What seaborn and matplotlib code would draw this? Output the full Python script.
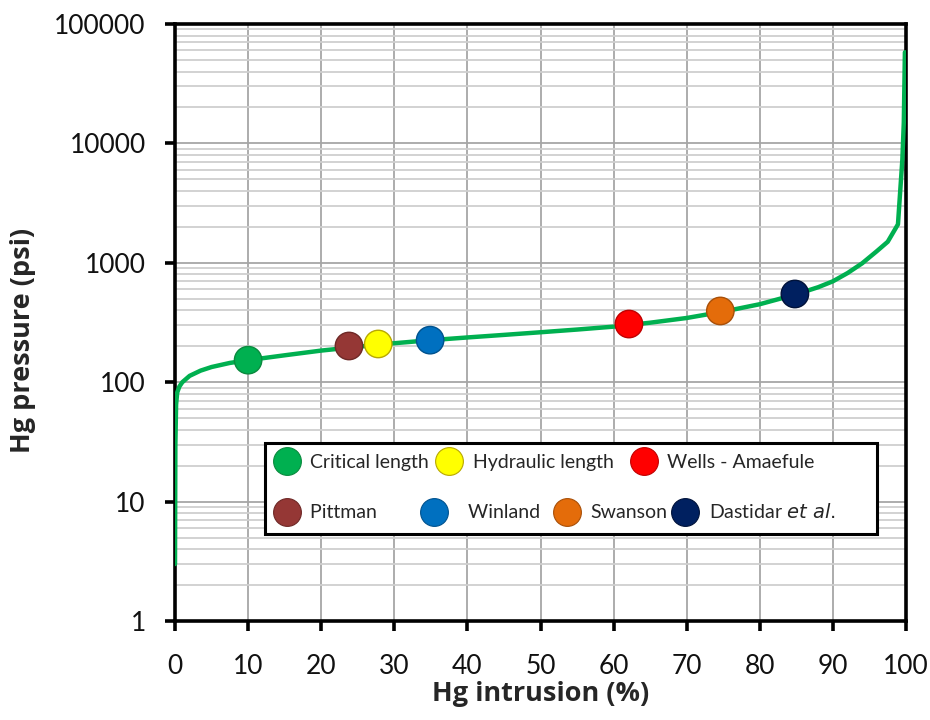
import numpy as np
import pandas as pd
import matplotlib
matplotlib.use("Agg")
import matplotlib.pyplot as plt
import seaborn as sns
from matplotlib.ticker import FixedLocator, NullFormatter, FuncFormatter
from matplotlib.lines import Line2D
from matplotlib.patches import Rectangle

# ---- data ----
intrusion = [0, 0.05, 0.15, 0.3, 0.6, 1, 2, 3.5, 5, 7.5, 10, 15, 20, 25, 30, 35,
             40, 45, 50, 55, 60, 65, 70, 75, 80, 85, 88, 90, 92, 94, 96, 97.5,
             98.9, 99.5, 99.7, 99.85]
pressure = [3, 30, 65, 82, 92, 100, 113, 125, 134, 145, 153, 168, 184, 198, 212, 225,
            237, 249, 262, 276, 292, 315, 345, 390, 450, 545, 625, 700, 820, 990, 1250, 1500,
            2100, 7300, 15000, 58000]

method_names = ["Critical length", "Hydraulic length", "Wells - Amaefule",
                "Pittman", "Winland", "Swanson", "Dastidar et al."]
method_x = [10, 27.8, 62.1, 23.8, 34.9, 74.6, 84.8]
method_y = [153, 209, 307, 201, 225, 395, 548]
method_colors = ["#00b050", "#ffff00", "#ff0000", "#953735", "#0070c0", "#e46c0a", "#002060"]
method_edges = ["#0a8a3e", "#b8a800", "#c00000", "#6e2826", "#00528e", "#a84f08", "#00123a"]

x_ticks = [0, 10, 20, 30, 40, 50, 60, 70, 80, 90, 100]
y_ticks = [1, 10, 100, 1000, 10000, 100000]

# ---- style ----
sns.set_style("white")
plt.rcParams['font.family'] = ['Lato', 'DejaVu Sans']

fig = plt.figure(figsize=(9.3, 7.2), dpi=100)
ax = fig.add_axes([175/930, 1 - 621/720, (906-175)/930, (621-24)/720])

curve = pd.DataFrame({"x": intrusion, "y": pressure})
sns.lineplot(data=curve, x="x", y="y", ax=ax, color="#00b050", linewidth=3.2,
             sort=False, estimator=None, zorder=3)

pts = pd.DataFrame({"name": method_names, "x": method_x, "y": method_y})
sns.scatterplot(data=pts, x="x", y="y", hue="name", hue_order=method_names,
                palette=dict(zip(method_names, method_colors)), s=390,
                edgecolor=method_edges, linewidth=1.0, ax=ax, legend=False, zorder=4)

ax.set_yscale("log")
ax.set_xlim(0, 100)
ax.set_ylim(1, 100000)
ax.xaxis.set_major_locator(FixedLocator(x_ticks))
ax.yaxis.set_major_locator(FixedLocator(y_ticks))
minor = [m * 10**d for d in range(0, 5) for m in range(2, 10)]
ax.yaxis.set_minor_locator(FixedLocator(minor))
ax.yaxis.set_minor_formatter(NullFormatter())
ax.yaxis.set_major_formatter(FuncFormatter(lambda v, p: f"{int(round(v))}"))

ax.grid(True, which="major", axis="both", color="#a6a6a6", linewidth=1.3, zorder=0)
ax.grid(True, which="minor", axis="y", color="#cfcfcf", linewidth=1.3, zorder=0)
ax.set_axisbelow(True)

for sp in ax.spines.values():
    sp.set_color("black")
    sp.set_linewidth(2.6)
    sp.set_visible(True)

ax.tick_params(axis="both", which="major", direction="out", length=7, width=2.6,
               color="black", labelsize=19, labelcolor="#111111")
ax.tick_params(axis="x", which="major", pad=17, bottom=True)
ax.tick_params(axis="y", which="major", pad=14, left=True)
ax.tick_params(axis="y", which="minor", length=0)

lab_font = dict(fontsize=19.5, fontweight="bold", family=["Open Sans", "DejaVu Sans"])
ax.set_xlabel("Hg intrusion (%)", labelpad=1, **lab_font)
ax.set_ylabel("Hg pressure (psi)", **lab_font)
ax.yaxis.set_label_coords(-0.19, 0.47)

# ---- legend (two rows, framed box) ----
def handle(i):
    return Line2D([], [], linestyle="none", marker="o", markersize=20,
                  markerfacecolor=method_colors[i], markeredgecolor=method_edges[i],
                  markeredgewidth=0.8)

row1 = [0, 1, 2]
row2 = [3, 4, 5, 6]
labels1 = ["Critical length", "Hydraulic length  ", "Wells - Amaefule"]
labels2 = ["Pittman        ", "  Winland  ", "Swanson", "Dastidar $\\it{et\\ al.}$"]
leg1 = fig.legend([handle(i) for i in row1], labels1,
                  ncol=3, loc="center left", bbox_to_anchor=(275/930, 1 - 462/720),
                  frameon=False, fontsize=14, handlelength=1.2, handletextpad=0.6,
                  columnspacing=0.45, borderpad=0, borderaxespad=0)
leg2 = fig.legend([handle(i) for i in row2], labels2,
                  ncol=4, loc="center left", bbox_to_anchor=(275/930, 1 - 512/720),
                  frameon=False, fontsize=14, handlelength=1.2, handletextpad=0.6,
                  columnspacing=0.3, borderpad=0, borderaxespad=0)
fig.patches.append(Rectangle((265/930, 1 - 534/720), (877-265)/930, (534-443)/720,
                             transform=fig.transFigure, facecolor="white",
                             edgecolor="black", linewidth=2.2, zorder=1))
leg1.set_zorder(5)
leg2.set_zorder(5)

fig.savefig("out.png", dpi=100)
